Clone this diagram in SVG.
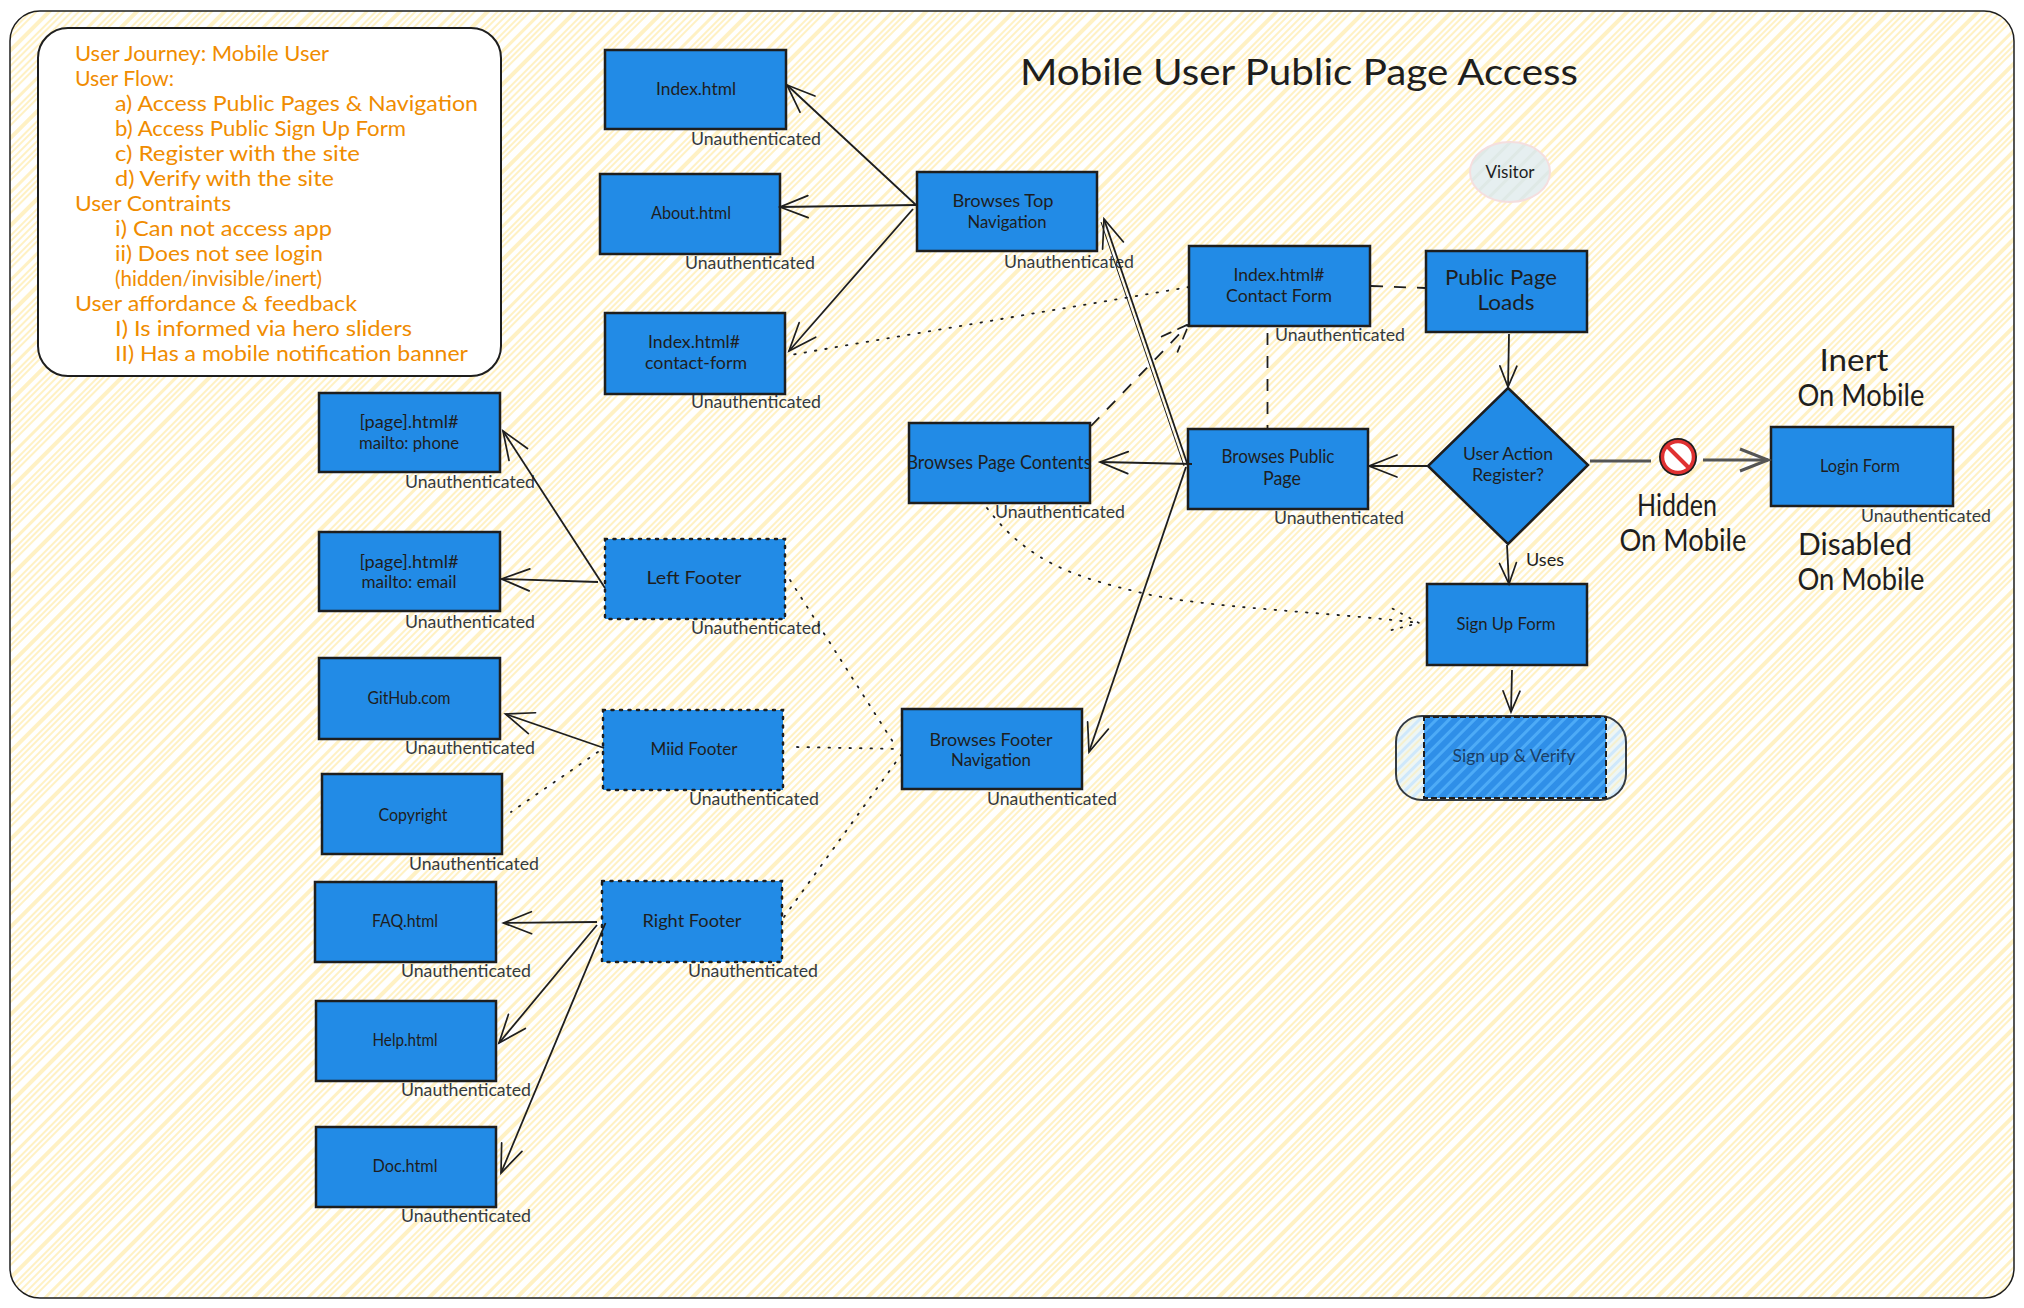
<svg xmlns="http://www.w3.org/2000/svg" width="2024" height="1308" viewBox="0 0 2024 1308">
<style>
text{font-family:"Lato","Noto Sans",sans-serif;fill:#1e1e1e;transform:translateY(1px)}
.box{fill:#228be6;stroke:#1e1e1e;stroke-width:2.5}
.dot{stroke-dasharray:2 6.500;stroke-linecap:round}
.n{font-size:17px;text-anchor:middle}
.m{font-size:21px;text-anchor:middle}
.b{font-size:31px;text-anchor:middle}
.u{font-size:17px;fill:#343a40}
.o{font-size:21px;fill:#f08c00}
.c{fill:none;stroke:#1e1e1e;stroke-width:1.800}
.cd{fill:none;stroke:#1e1e1e;stroke-width:1.800;stroke-dasharray:12 11}
.cp{fill:none;stroke:#1e1e1e;stroke-width:1.800;stroke-dasharray:1.500 9;stroke-linecap:round}
.g{fill:none;stroke:#555;stroke-width:3}
.hd{fill:none;stroke:#1e1e1e;stroke-width:1.700;stroke-linecap:round}
</style>
<defs>
<pattern id="hBg" width="62" height="62" patternUnits="userSpaceOnUse" patternTransform="rotate(-45)">
<rect width="62" height="62" fill="#fff"/>
<g fill="#fff1c4"><rect y="1" width="62" height="2"/><rect y="6" width="62" height="2"/><rect y="10" width="62" height="2"/><rect y="18" width="62" height="3"/><rect y="25" width="62" height="2"/><rect y="29" width="62" height="2"/><rect y="33" width="62" height="2"/><rect y="41" width="62" height="4"/><rect y="49" width="62" height="2"/><rect y="53" width="62" height="2"/><rect y="58" width="62" height="2"/></g>
</pattern>
<pattern id="hVis" width="12" height="12" patternUnits="userSpaceOnUse" patternTransform="rotate(-45)">
<rect width="12" height="12" fill="#e6eff0"/><rect y="3" width="12" height="3" fill="#dfe9e6"/>
</pattern>
<pattern id="hOut" width="10" height="10" patternUnits="userSpaceOnUse" patternTransform="rotate(-45)">
<rect width="10" height="10" fill="#eef6f4"/><rect y="1" width="10" height="3" fill="#cfe8fb"/><rect y="6" width="10" height="2" fill="#f5f0cf"/>
</pattern>
<pattern id="hIn" width="9" height="9" patternUnits="userSpaceOnUse" patternTransform="rotate(-45)">
<rect width="9" height="9" fill="#2f8fe8"/><rect y="2" width="9" height="3" fill="#4dabf7"/>
</pattern>
<marker id="a" markerUnits="userSpaceOnUse" markerWidth="40" markerHeight="32" refX="34" refY="16" orient="auto" overflow="visible"><path d="M6 5L34 16L6 27" class="hd"/></marker>
<marker id="s" markerUnits="userSpaceOnUse" markerWidth="30" markerHeight="24" refX="24" refY="12" orient="auto" overflow="visible"><path d="M3 3.500L24 12L3 20.500" class="hd"/></marker>
<marker id="ad" markerUnits="userSpaceOnUse" markerWidth="40" markerHeight="32" refX="34" refY="16" orient="auto" overflow="visible"><path d="M6 5L34 16L6 27" class="hd" stroke-dasharray="10 8"/></marker>
<marker id="ap" markerUnits="userSpaceOnUse" markerWidth="40" markerHeight="32" refX="34" refY="16" orient="auto" overflow="visible"><path d="M6 5L34 16L6 27" class="hd" stroke-dasharray="1.500 8"/></marker>
<marker id="ag" markerUnits="userSpaceOnUse" markerWidth="40" markerHeight="32" refX="34" refY="16" orient="auto" overflow="visible"><path d="M6 5L34 16L6 27" fill="none" stroke="#555" stroke-width="3"/></marker>
</defs>
<rect id="frame" x="10" y="11" width="2004" height="1287" rx="30" fill="url(#hBg)" stroke="#1e1e1e" stroke-width="1.500"/>
<text class="b" x="1299" y="84" style="font-size:37px" textLength="558" lengthAdjust="spacingAndGlyphs">Mobile User Public Page Access</text>
<g id="journey">
<rect x="38" y="28" width="463" height="348" rx="30" fill="#fff" stroke="#1e1e1e" stroke-width="2"/>
<text class="o" x="75" y="60" textLength="254" lengthAdjust="spacingAndGlyphs">User Journey: Mobile User</text>
<text class="o" x="75" y="85" textLength="99" lengthAdjust="spacingAndGlyphs">User Flow:</text>
<text class="o" x="115" y="110" textLength="363" lengthAdjust="spacingAndGlyphs">a) Access Public Pages &amp; Navigation</text>
<text class="o" x="115" y="135" textLength="291" lengthAdjust="spacingAndGlyphs">b) Access Public Sign Up Form</text>
<text class="o" x="115" y="160" textLength="245" lengthAdjust="spacingAndGlyphs">c) Register with the site</text>
<text class="o" x="115" y="185" textLength="219" lengthAdjust="spacingAndGlyphs">d) Verify with the site</text>
<text class="o" x="75" y="210" textLength="156" lengthAdjust="spacingAndGlyphs">User Contraints</text>
<text class="o" x="115" y="235" textLength="217" lengthAdjust="spacingAndGlyphs">i) Can not access app</text>
<text class="o" x="115" y="260" textLength="208" lengthAdjust="spacingAndGlyphs">ii) Does not see login</text>
<text class="o" x="115" y="285" textLength="207" lengthAdjust="spacingAndGlyphs">(hidden/invisible/inert)</text>
<text class="o" x="75" y="310" textLength="282" lengthAdjust="spacingAndGlyphs">User affordance &amp; feedback</text>
<text class="o" x="115" y="335" textLength="297" lengthAdjust="spacingAndGlyphs">I) Is informed via hero sliders</text>
<text class="o" x="115" y="360" textLength="353" lengthAdjust="spacingAndGlyphs">II) Has a mobile notification banner</text>
</g>
<g id="visitor"><ellipse cx="1510" cy="172" rx="40" ry="30" fill="url(#hVis)" stroke="#f5dede" stroke-width="2"/><text class="n" x="1510" y="177" textLength="49" lengthAdjust="spacingAndGlyphs">Visitor</text></g>
<g id="n-index"><rect class="box" x="605" y="50" width="181" height="79"/><text class="n" x="696" y="94" textLength="80" lengthAdjust="spacingAndGlyphs">Index.html</text><text class="u" x="691" y="144" textLength="130" lengthAdjust="spacingAndGlyphs">Unauthenticated</text></g>
<g id="n-about"><rect class="box" x="600" y="174" width="180" height="80"/><text class="n" x="691" y="218" textLength="80" lengthAdjust="spacingAndGlyphs">About.html</text><text class="u" x="685" y="268" textLength="130" lengthAdjust="spacingAndGlyphs">Unauthenticated</text></g>
<g id="n-contact-form"><rect class="box" x="605" y="313" width="180" height="81"/><text class="n" x="694" y="347" textLength="92" lengthAdjust="spacingAndGlyphs">Index.html#</text><text class="n" x="696" y="368" textLength="102" lengthAdjust="spacingAndGlyphs">contact-form</text><text class="u" x="691" y="407" textLength="130" lengthAdjust="spacingAndGlyphs">Unauthenticated</text></g>
<g id="n-phone"><rect class="box" x="319" y="393" width="181" height="79"/><text class="n" x="409" y="427" textLength="99" lengthAdjust="spacingAndGlyphs">[page].html#</text><text class="n" x="409" y="448" textLength="100" lengthAdjust="spacingAndGlyphs">mailto: phone</text><text class="u" x="405" y="487" textLength="130" lengthAdjust="spacingAndGlyphs">Unauthenticated</text></g>
<g id="n-email"><rect class="box" x="319" y="532" width="181" height="79"/><text class="n" x="409" y="567" textLength="99" lengthAdjust="spacingAndGlyphs">[page].html#</text><text class="n" x="409" y="587" textLength="95" lengthAdjust="spacingAndGlyphs">mailto: email</text><text class="u" x="405" y="627" textLength="130" lengthAdjust="spacingAndGlyphs">Unauthenticated</text></g>
<g id="n-github"><rect class="box" x="319" y="658" width="181" height="81"/><text class="n" x="409" y="703" textLength="83" lengthAdjust="spacingAndGlyphs">GitHub.com</text><text class="u" x="405" y="753" textLength="130" lengthAdjust="spacingAndGlyphs">Unauthenticated</text></g>
<g id="n-copyright"><rect class="box" x="322" y="774" width="180" height="80"/><text class="n" x="413" y="820" textLength="69" lengthAdjust="spacingAndGlyphs">Copyright</text><text class="u" x="409" y="869" textLength="130" lengthAdjust="spacingAndGlyphs">Unauthenticated</text></g>
<g id="n-faq"><rect class="box" x="315" y="882" width="181" height="80"/><text class="n" x="405" y="926" textLength="66" lengthAdjust="spacingAndGlyphs">FAQ.html</text><text class="u" x="401" y="976" textLength="130" lengthAdjust="spacingAndGlyphs">Unauthenticated</text></g>
<g id="n-help"><rect class="box" x="316" y="1001" width="180" height="80"/><text class="n" x="405" y="1045" textLength="65" lengthAdjust="spacingAndGlyphs">Help.html</text><text class="u" x="401" y="1095" textLength="130" lengthAdjust="spacingAndGlyphs">Unauthenticated</text></g>
<g id="n-doc"><rect class="box" x="316" y="1127" width="180" height="80"/><text class="n" x="405" y="1171" textLength="65" lengthAdjust="spacingAndGlyphs">Doc.html</text><text class="u" x="401" y="1221" textLength="130" lengthAdjust="spacingAndGlyphs">Unauthenticated</text></g>
<g id="n-left-footer"><rect class="box dot" x="605" y="539" width="180" height="80"/><text class="n" x="694" y="583" textLength="95" lengthAdjust="spacingAndGlyphs">Left Footer</text><text class="u" x="691" y="633" textLength="130" lengthAdjust="spacingAndGlyphs">Unauthenticated</text></g>
<g id="n-mid-footer"><rect class="box dot" x="603" y="710" width="180" height="80"/><text class="n" x="694" y="754" textLength="87" lengthAdjust="spacingAndGlyphs">Miid Footer</text><text class="u" x="689" y="804" textLength="130" lengthAdjust="spacingAndGlyphs">Unauthenticated</text></g>
<g id="n-right-footer"><rect class="box dot" x="602" y="881" width="180" height="81"/><text class="n" x="692" y="926" textLength="99" lengthAdjust="spacingAndGlyphs">Right Footer</text><text class="u" x="688" y="976" textLength="130" lengthAdjust="spacingAndGlyphs">Unauthenticated</text></g>
<g id="n-top-nav"><rect class="box" x="917" y="172" width="180" height="79"/><text class="n" x="1003" y="206" textLength="101" lengthAdjust="spacingAndGlyphs">Browses Top</text><text class="n" x="1007" y="227" textLength="79" lengthAdjust="spacingAndGlyphs">Navigation</text><text class="u" x="1004" y="267" textLength="130" lengthAdjust="spacingAndGlyphs">Unauthenticated</text></g>
<g id="n-contact"><rect class="box" x="1189" y="246" width="181" height="80"/><text class="n" x="1279" y="280" textLength="91" lengthAdjust="spacingAndGlyphs">Index.html#</text><text class="n" x="1279" y="301" textLength="106" lengthAdjust="spacingAndGlyphs">Contact Form</text><text class="u" x="1275" y="340" textLength="130" lengthAdjust="spacingAndGlyphs">Unauthenticated</text></g>
<g id="n-loads"><rect class="box" x="1426" y="251" width="161" height="81"/><text class="m" x="1501" y="284" textLength="112" lengthAdjust="spacingAndGlyphs">Public Page</text><text class="m" x="1506" y="309" textLength="57" lengthAdjust="spacingAndGlyphs">Loads</text></g>
<g id="n-contents"><rect class="box" x="909" y="423" width="181" height="80"/><text class="m" style="font-size:19px" x="999" y="468" textLength="185" lengthAdjust="spacingAndGlyphs">Browses Page Contents</text><text class="u" x="995" y="517" textLength="130" lengthAdjust="spacingAndGlyphs">Unauthenticated</text></g>
<g id="n-public"><rect class="box" x="1188" y="429" width="180" height="80"/><text class="n" style="font-size:19px" x="1278" y="462" textLength="113" lengthAdjust="spacingAndGlyphs">Browses Public</text><text class="n" style="font-size:19px" x="1282" y="484" textLength="38" lengthAdjust="spacingAndGlyphs">Page</text><text class="u" x="1274" y="523" textLength="130" lengthAdjust="spacingAndGlyphs">Unauthenticated</text></g>
<g id="n-decision"><polygon class="box" points="1508,388 1588,465 1508,544 1428,466"/><text class="n" x="1508" y="459" textLength="90" lengthAdjust="spacingAndGlyphs">User Action</text><text class="n" x="1508" y="480" textLength="72" lengthAdjust="spacingAndGlyphs">Register?</text></g>
<g id="n-login"><rect class="box" x="1771" y="427" width="182" height="79"/><text class="n" x="1860" y="471" textLength="80" lengthAdjust="spacingAndGlyphs">Login Form</text><text class="u" x="1861" y="521" textLength="130" lengthAdjust="spacingAndGlyphs">Unauthenticated</text></g>
<g id="n-signup"><rect class="box" x="1427" y="584" width="160" height="81"/><text class="n" x="1506" y="629" textLength="99" lengthAdjust="spacingAndGlyphs">Sign Up Form</text></g>
<g id="n-verify"><rect x="1396" y="716" width="230" height="84" rx="26" fill="url(#hOut)" stroke="#343a40" stroke-width="2"/><rect x="1424" y="717" width="182" height="81" fill="url(#hIn)" stroke="#1e1e1e" stroke-width="2" stroke-dasharray="6 3"/><text class="n" x="1514" y="761" textLength="123" lengthAdjust="spacingAndGlyphs" style="fill:#1b3f66">Sign up &amp; Verify</text></g>
<g id="n-footer-nav"><rect class="box" x="902" y="709" width="180" height="80"/><text class="n" x="991" y="745" textLength="123" lengthAdjust="spacingAndGlyphs">Browses Footer</text><text class="n" x="991" y="765" textLength="80" lengthAdjust="spacingAndGlyphs">Navigation</text><text class="u" x="987" y="804" textLength="130" lengthAdjust="spacingAndGlyphs">Unauthenticated</text></g>
<g id="n-blocked"><circle cx="1678" cy="457" r="19" fill="#1e1e1e"/><circle cx="1678" cy="457" r="15.500" fill="#fff" stroke="#e03131" stroke-width="3.500"/><path d="M1667 446L1689 468" stroke="#e03131" stroke-width="4" fill="none"/></g>
<g id="notes">
<text class="b" x="1854" y="370" textLength="69" lengthAdjust="spacingAndGlyphs">Inert</text>
<text class="b" x="1861" y="405" textLength="127" lengthAdjust="spacingAndGlyphs">On Mobile</text>
<text class="b" x="1677" y="515" textLength="80" lengthAdjust="spacingAndGlyphs">Hidden</text>
<text class="b" x="1683" y="550" textLength="127" lengthAdjust="spacingAndGlyphs">On Mobile</text>
<text class="b" x="1855" y="554" textLength="114" lengthAdjust="spacingAndGlyphs">Disabled</text>
<text class="b" x="1861" y="589" textLength="127" lengthAdjust="spacingAndGlyphs">On Mobile</text>
<text class="n" x="1545" y="565" textLength="38" lengthAdjust="spacingAndGlyphs">Uses</text>
</g>
<g id="connectors">
<path class="c" marker-end="url(#a)" d="M916 205L787 85"/>
<path class="c" marker-end="url(#a)" d="M916 205L780 207"/>
<path class="c" marker-end="url(#a)" d="M913 209L789 351"/>
<path class="c" marker-end="url(#a)" d="M1187 463L1104 219"/>
<path class="c" d="M1184 466L1101 222" style="stroke-width:1"/>
<path class="c" marker-end="url(#a)" d="M1192 464L1100 462"/>
<path class="c" marker-end="url(#a)" d="M1186 467L1089 752"/>
<path class="c" marker-end="url(#a)" d="M1427 466L1369 466"/>
<path class="c" marker-end="url(#s)" d="M1509 334L1508 387"/>
<path class="c" marker-end="url(#s)" d="M1507 545L1509 584"/>
<path class="c" marker-end="url(#s)" d="M1512 670L1511 712"/>
<path class="g" d="M1590 461L1651 461"/>
<path class="g" marker-end="url(#ag)" d="M1703 460L1768 460"/>
<path class="cd" d="M1371 286L1425 288"/>
<path class="cd" d="M1267.500 333L1267.500 428"/>
<path class="cd" marker-end="url(#ad)" d="M1091 426L1189 324"/>
<path class="cp" d="M1189 287L790 355"/>
<path class="cp" marker-end="url(#ap)" d="M987 508C1030 565 1080 578 1142 593S1330 612 1419 623"/>
<path class="c" marker-end="url(#a)" d="M605 588L503 431"/>
<path class="c" marker-end="url(#a)" d="M598 582L501.500 579"/>
<path class="c" marker-end="url(#a)" d="M604 748L505.500 714"/>
<path class="cp" d="M598 752L511 812"/>
<path class="cp" d="M790 580L893 742"/>
<path class="cp" d="M797 747L901 749"/>
<path class="cp" d="M784 917L901 755"/>
<path class="c" marker-end="url(#a)" d="M597 922L503.500 923"/>
<path class="c" marker-end="url(#a)" d="M597 925L499 1043"/>
<path class="c" marker-end="url(#a)" d="M605.500 923L501 1173"/>
</g>
</svg>
